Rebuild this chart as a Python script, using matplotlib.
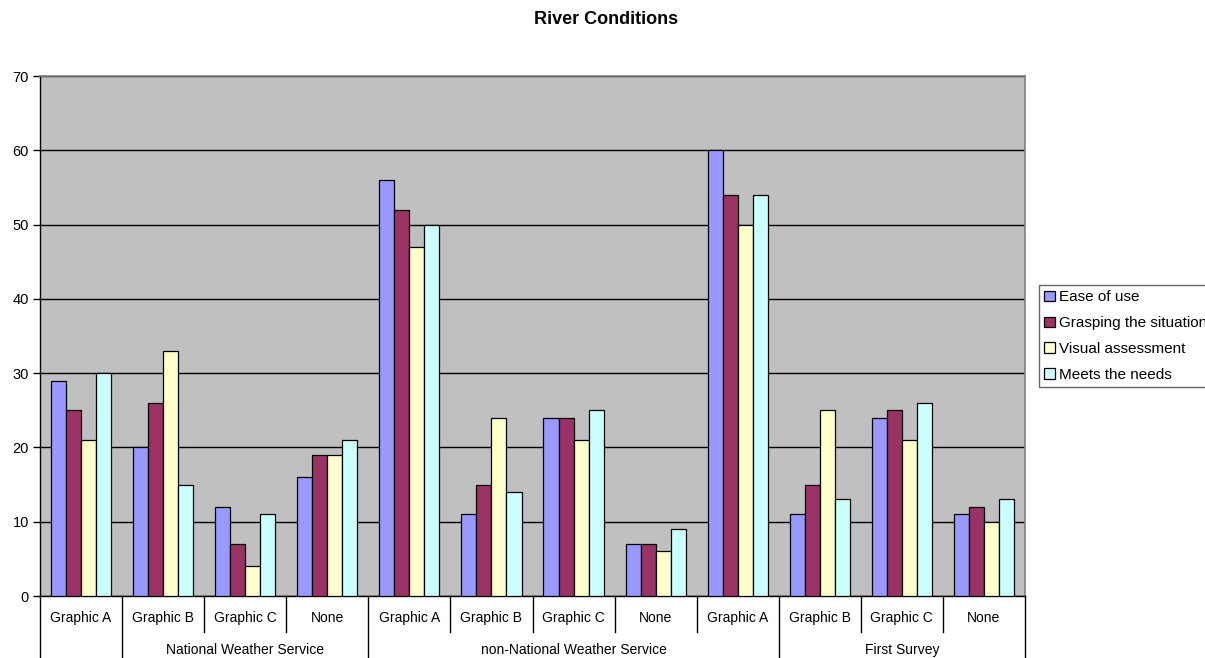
import matplotlib
matplotlib.use("Agg")
import matplotlib.pyplot as plt
from matplotlib.patches import Patch
from matplotlib.lines import Line2D
import matplotlib.transforms as mtransforms
import numpy as np

plt.rcParams['font.family'] = ['Liberation Sans', 'DejaVu Sans']

categories = ["Graphic A", "Graphic B", "Graphic C", "None",
              "Graphic A", "Graphic B", "Graphic C", "None",
              "Graphic A", "Graphic B", "Graphic C", "None"]
groups = ["National Weather Service", "non-National Weather Service", "First Survey"]
group_bounds = [(1, 4), (4, 9), (9, 12)]

series_names = ["Ease of use", "Grasping the situation", "Visual assessment", "Meets the needs"]
ease_of_use = [29, 20, 12, 16, 56, 11, 24, 7, 60, 11, 24, 11]
grasping = [25, 26, 7, 19, 52, 15, 24, 7, 54, 15, 25, 12]
visual = [21, 33, 4, 19, 47, 24, 21, 6, 50, 25, 21, 10]
meets = [30, 15, 11, 21, 50, 14, 25, 9, 54, 13, 26, 13]
colors = ["#9999FF", "#993366", "#FFFFCC", "#CCFFFF"]

W, H = 1205, 658
fig = plt.figure(figsize=(W / 100, H / 100), dpi=100)
ax = fig.add_axes([40 / W, 1 - 596 / H, (1025 - 40) / W, (596 - 76) / H])
ax.set_facecolor("#C0C0C0")

n = len(categories)
x = np.arange(n) + 0.5
bw = 0.183
all_series = [ease_of_use, grasping, visual, meets]
for k, (vals, c, name) in enumerate(zip(all_series, colors, series_names)):
    ax.bar(x + (k - 1.5) * bw, vals, width=bw, color=c, edgecolor="black",
           linewidth=0.9, label=name, zorder=3)

ax.set_xlim(0, n)
ax.set_ylim(0, 70)
ax.set_yticks(range(0, 71, 10))
ax.yaxis.grid(True, color="black", linewidth=1.0, zorder=1)
ax.set_axisbelow(True)
ax.set_xticks([])
ax.tick_params(axis="y", labelsize=10.5, length=5, width=1, color="black", pad=3)
for s in ["top", "right"]:
    ax.spines[s].set_color("#808080")
    ax.spines[s].set_linewidth(1.2)
for s in ["left", "bottom"]:
    ax.spines[s].set_color("black")
    ax.spines[s].set_linewidth(1.0)

trans = mtransforms.blended_transform_factory(ax.transData, fig.transFigure)
y_axis = 1 - 596 / H
y_short = 1 - 632 / H
y_long = 0.0
long_pos = {0, 1, 4, 9, 12}
for i in range(n + 1):
    y_end = y_long if i in long_pos else y_short
    fig.add_artist(Line2D([i, i], [y_axis, y_end], transform=trans,
                          color="black", linewidth=1.0))
for i, lab in enumerate(categories):
    fig.text(i + 0.5, 1 - 618 / H, lab, transform=trans, ha="center", va="center", fontsize=10)
for (a, b), g in zip(group_bounds, groups):
    fig.text((a + b) / 2, 1 - 650 / H, g, transform=trans, ha="center", va="center", fontsize=10)

fig.text(606 / W, 1 - 20 / H, "River Conditions", ha="center", va="center",
         fontsize=13, fontweight="bold")

handles = [Patch(facecolor=c, edgecolor="black", linewidth=0.9) for c in colors]
leg = fig.legend(handles, series_names, loc="upper left",
                 bbox_to_anchor=(1039 / W, 1 - 285 / H), fontsize=11,
                 frameon=True, fancybox=False, edgecolor="#404040",
                 handlelength=0.7, handleheight=0.7, handletextpad=0.25,
                 borderpad=0.35, labelspacing=0.78, borderaxespad=0)
leg.get_frame().set_linewidth(1.0)

fig.savefig("out.png", dpi=100)
